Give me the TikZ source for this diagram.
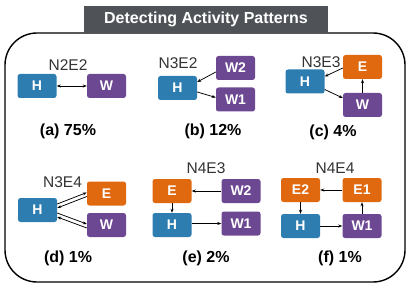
\documentclass[tikz,border=0pt]{standalone}
\usepackage{fontspec}
\setmainfont{Liberation Sans}
\usetikzlibrary{arrows.meta,calc}
\definecolor{hblue}{HTML}{2D7DB0}
\definecolor{wpurple}{HTML}{6D4892}
\definecolor{eorange}{HTML}{E0690F}
\definecolor{titlegray}{HTML}{4F5358}
\tikzset{
  nbox/.style={rectangle, rounded corners=2.5pt, minimum width=39pt, minimum height=24pt, inner sep=0pt, text=white, font=\fontsize{14}{14}\selectfont\bfseries},
  hbox/.style={nbox, fill=hblue},
  wbox/.style={nbox, fill=wpurple},
  ebox/.style={nbox, fill=eorange},
  lbl/.style={font=\fontsize{15.5}{15.5}\selectfont, text=black!80, inner sep=0pt},
  captxt/.style={font=\fontsize{16}{16}\selectfont\bfseries, inner sep=0pt},
  arr/.style={-{Stealth[length=4pt,width=3pt]}, line width=0.75pt, black},
  darr/.style={{Stealth[length=4pt,width=3pt]}-{Stealth[length=4pt,width=3pt]}, line width=0.75pt, black}
}
\begin{document}
\begin{tikzpicture}[x=1pt,y=-1pt]
\useasboundingbox (0,0) rectangle (419,291);
% outer frame
\draw[line width=1.4pt, rounded corners=32pt] (5,33) rectangle (405,282);
% title
\node[fill=titlegray, minimum width=244pt, minimum height=27pt, inner sep=0pt, text=white, font=\fontsize{16}{16}\selectfont\bfseries] (title) at (206,19.5) {Detecting Activity Patterns};

% (a)
\node[hbox] (aH) at (37,86) {H};
\node[wbox] (aW) at (106.5,86) {W};
\node[lbl] (aL) at (68,65) {N2E2};
\node[captxt] (aC) at (68,131) {(a) 75\%};
\draw[darr] (aH.east) -- (aW.west);

% (b)
\node[hbox] (bH) at (177.5,88) {H};
\node[wbox] (bW2) at (235.5,68) {W2};
\node[wbox] (bW1) at (235.5,99.5) {W1};
\node[lbl] (bL) at (178,63) {N3E2};
\node[captxt] (bC) at (213,131) {(b) 12\%};
\draw[arr] ($(bW2.west)+(0,4)$) -- ($(bH.east)+(0,-6)$);
\draw[arr] ($(bH.east)+(0,4)$) -- ($(bW1.west)+(0,-2)$);

% (c)
\node[hbox] (cH) at (305,81.5) {H};
\node[ebox] (cE) at (362.5,67) {E};
\node[wbox] (cW) at (362.5,105) {W};
\node[lbl] (cL) at (321,62) {N3E3};
\node[captxt] (cC) at (333,132) {(c) 4\%};
\draw[arr] ($(cE.west)+(0,1)$) -- ($(cH.east)+(0,-5)$);
\draw[arr] ($(cH.east)+(0,8)$) -- ($(cW.west)+(0,-7)$);
\draw[arr] (cW.north) -- (cE.south);

% (d)
\node[hbox] (dH) at (37.5,210) {H};
\node[ebox] (dE) at (106.5,193.5) {E};
\node[wbox] (dW) at (106.5,225) {W};
\node[lbl] (dL) at (62.5,182) {N3E4};
\node[captxt] (dC) at (68,258) {(d) 1\%};
\draw[arr] ($(dH.east)+(0,-6)$) -- ($(dE.west)+(0,-1)$);
\draw[arr] ($(dE.west)+(0,3)$) -- ($(dH.east)+(0,-2)$);
\draw[arr] ($(dH.east)+(0,3)$) -- ($(dW.west)+(0,-1)$);
\draw[arr] ($(dW.west)+(0,3)$) -- ($(dH.east)+(0,7)$);

% (e)
\node[ebox] (eE) at (172,191) {E};
\node[hbox] (eH) at (172,225) {H};
\node[wbox] (eW2) at (241,191) {W2};
\node[wbox] (eW1) at (241,223.5) {W1};
\node[lbl] (eL) at (206,168) {N4E3};
\node[captxt] (eC) at (206,258) {(e) 2\%};
\draw[arr] (eW2.west) -- (eE.east);
\draw[arr] (eE.south) -- (eH.north);
\draw[arr] (eH.east |- eW1.west) -- (eW1.west);

% (f)
\node[ebox] (fE2) at (300.5,190) {E2};
\node[ebox] (fE1) at (362,190) {E1};
\node[hbox] (fH) at (300.5,226) {H};
\node[wbox] (fW1) at (362,226) {W1};
\node[lbl] (fL) at (335,168) {N4E4};
\node[captxt] (fC) at (340,258) {(f) 1\%};
\draw[arr] (fE1.west) -- (fE2.east);
\draw[arr] (fE2.south) -- (fH.north);
\draw[arr] (fH.east) -- (fW1.west);
\draw[arr] (fW1.north) -- (fE1.south);
\end{tikzpicture}
\end{document}
